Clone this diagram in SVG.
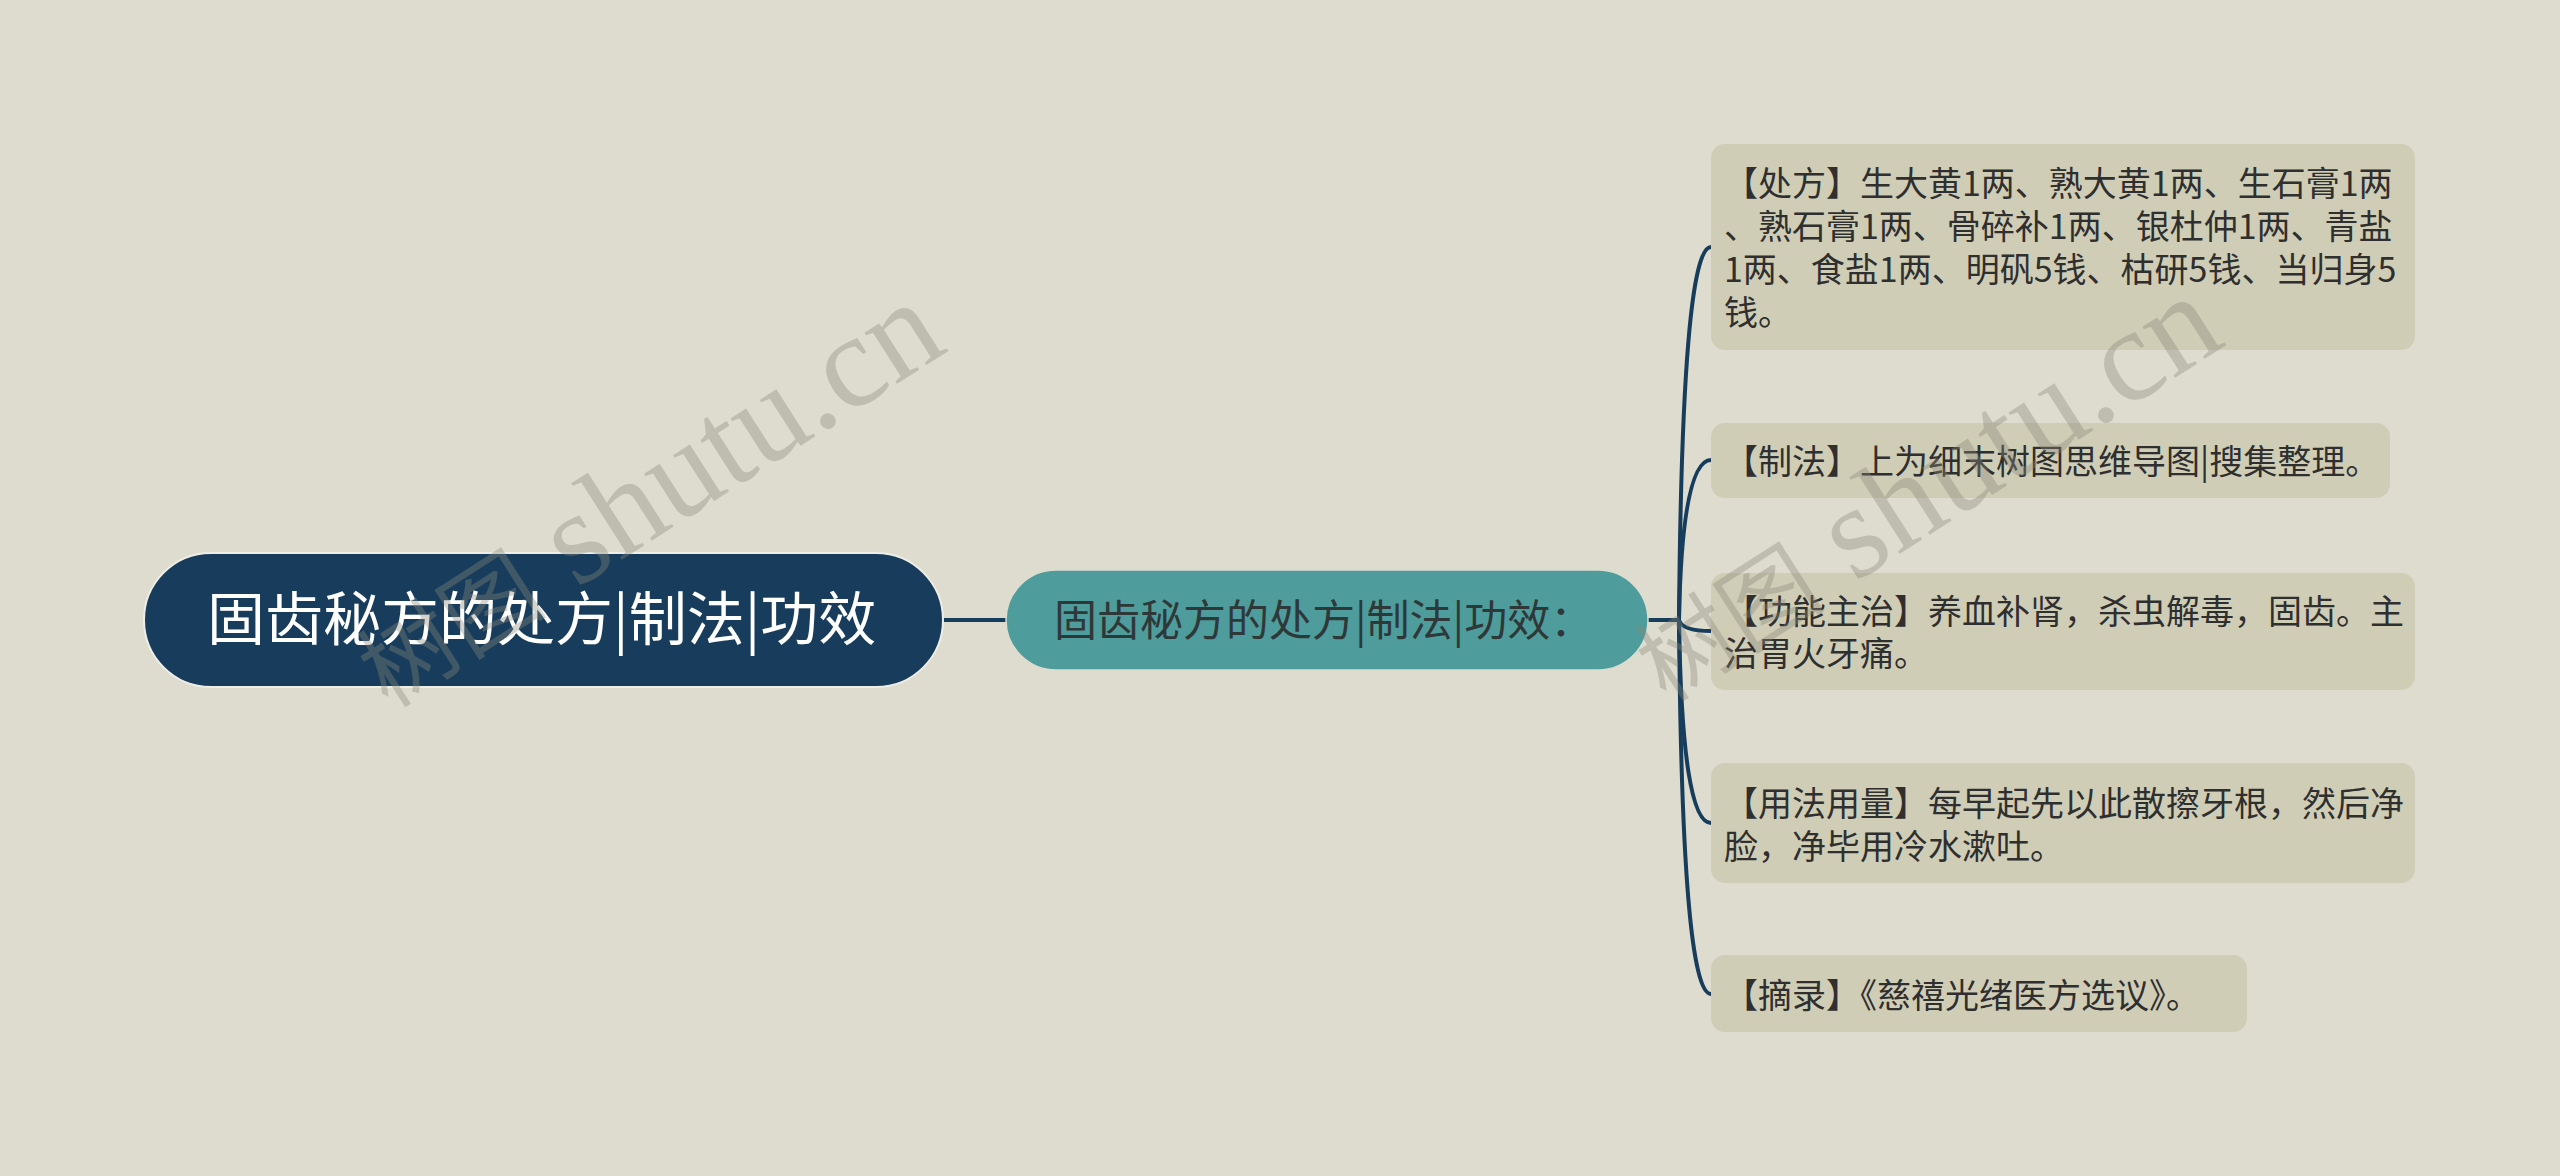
<svg xmlns="http://www.w3.org/2000/svg" width="2560" height="1176" viewBox="0 0 2560 1176">
<style>
.bg{fill:#dedccf}
.conn{fill:none;stroke:#173d5c;stroke-width:4;stroke-linecap:round}
.root rect{fill:#183d5c;stroke:#eeeee6;stroke-width:2}
.root text{fill:#ffffff;font-size:58px}
.sub rect{fill:#4e9c9c;stroke:#dcdccf;stroke-width:1.5}
.sub text{fill:#2e3838;font-size:43px}
.leaf rect{fill:#cfcdb6}
.leaf text{fill:#2f2f2f;font-size:34px}
text{font-family:"Noto Sans CJK SC","Noto Sans",sans-serif}
.wm{font-family:"Liberation Serif","Noto Sans CJK SC",serif;font-size:132px;fill:#8a8878;opacity:0.36}
.wm .cjk{font-family:"Noto Sans CJK SC",serif;font-size:95px}
</style>
<rect class="bg" x="0" y="0" width="2560" height="1176"/>
<g id="connectors">
<path class="conn" d="M943,620 L1006,620"/>
<path class="conn" d="M1648,620 L1679,620"/>
<path class="conn" d="M1679,620 Q1682,247 1711,247"/>
<path class="conn" d="M1679,620 Q1682,460 1711,460"/>
<path class="conn" d="M1679,620 Q1682,631 1711,631"/>
<path class="conn" d="M1679,620 Q1682,823 1711,823"/>
<path class="conn" d="M1679,620 Q1682,994 1711,994"/>
</g>
<g id="root" class="root">
<rect x="144" y="553" width="799" height="134" rx="67"/>
<text x="207" y="640">固齿秘方的处方|制法|功效</text>
</g>
<g id="sub" class="sub">
<rect x="1006" y="570" width="642" height="100" rx="50"/>
<text x="1054" y="636">固齿秘方的处方|制法|功效：</text>
</g>
<g id="n1" class="leaf">
<rect x="1711" y="144" width="704" height="206" rx="14"/>
<text x="1724" y="196">【处方】生大黄1两、熟大黄1两、生石膏1两</text>
<text x="1724" y="239">、熟石膏1两、骨碎补1两、银杜仲1两、青盐</text>
<text x="1724" y="282">1两、食盐1两、明矾5钱、枯研5钱、当归身5</text>
<text x="1724" y="325">钱。</text>
</g>
<g id="n2" class="leaf">
<rect x="1711" y="423" width="679" height="75" rx="14"/>
<text x="1724" y="474">【制法】上为细末树图思维导图|搜集整理。</text>
</g>
<g id="n3" class="leaf">
<rect x="1711" y="573" width="704" height="117" rx="14"/>
<text x="1724" y="624">【功能主治】养血补肾，杀虫解毒，固齿。主</text>
<text x="1724" y="666">治胃火牙痛。</text>
</g>
<g id="n4" class="leaf">
<rect x="1711" y="763" width="704" height="120" rx="14"/>
<text x="1724" y="816">【用法用量】每早起先以此散擦牙根，然后净</text>
<text x="1724" y="859">脸，净毕用冷水漱吐。</text>
</g>
<g id="n5" class="leaf">
<rect x="1711" y="955" width="536" height="77" rx="14"/>
<text x="1724" y="1008">【摘录】《慈禧光绪医方选议》。</text>
</g>
<g id="watermarks">
<text class="wm" x="950" y="350" text-anchor="end" transform="rotate(-32.6 950 350)"><tspan class="cjk">树图</tspan> shutu.cn</text>
<text class="wm" x="2228" y="344" text-anchor="end" transform="rotate(-32.6 2228 344)"><tspan class="cjk">树图</tspan> shutu.cn</text>
</g>
</svg>
